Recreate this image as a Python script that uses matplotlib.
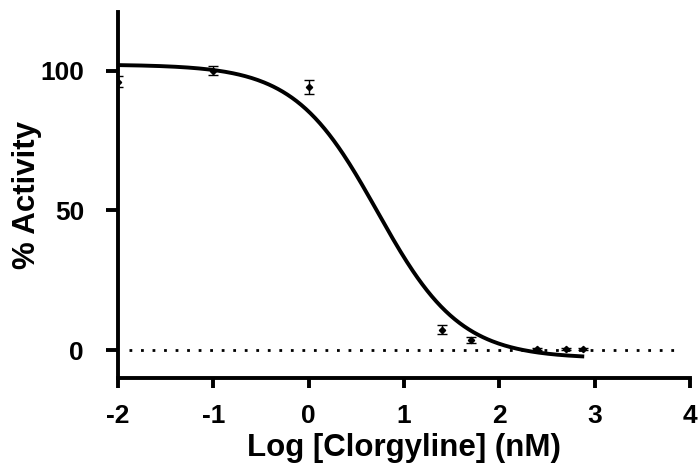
import numpy as np
import matplotlib.pyplot as plt

plt.rcParams['font.family'] = ['Liberation Sans', 'DejaVu Sans']
plt.rcParams['font.weight'] = 'bold'
plt.rcParams['lines.scale_dashes'] = False

# measured activity (mean +/- error)
log_conc = [-2, -1, 0, 1.4, 1.7, 2.4, 2.7, 2.88]
activity = [96, 100, 94.3, 7.2, 3.5, 0.4, 0.4, 0.3]
err = [2.0, 1.6, 2.5, 1.6, 1.0, 0.3, 0.3, 0.3]

# four-parameter logistic fit
top = 102.2
bottom = -3.0
log_ic50 = 0.72
hill = 1.0
fit_range = (-2, 2.87)

x_ticks = [-2, -1, 0, 1, 2, 3, 4]
y_ticks = [0, 50, 100]

fig = plt.figure(figsize=(7, 4.75), dpi=100)
ax = fig.add_axes([0.1686, 0.2042, 0.8171, 0.7705])

xs = np.linspace(fit_range[0], fit_range[1], 300)
ys = bottom + (top - bottom) / (1 + 10 ** ((xs - log_ic50) * hill))
ax.plot(xs, ys, color="black", lw=2.8, zorder=3)

ax.errorbar(log_conc, activity, yerr=err, fmt="D", ms=3.2, color="black",
            ecolor="black", elinewidth=1.0, capsize=3.5, capthick=1.0, zorder=4)

ax.plot([-1.88, 3.9], [0, 0], color="black", lw=2.0,
        linestyle=(0, (2, 6.3)), zorder=2)

ax.set_xlim(-2, 4)
ax.set_ylim(-10, 121)
ax.set_xticks(x_ticks)
ax.set_yticks(y_ticks)
ax.set_xticklabels([str(t) for t in x_ticks])
for side in ["top", "right"]:
    ax.spines[side].set_visible(False)
for side in ["left", "bottom"]:
    ax.spines[side].set_linewidth(2.8)
ax.tick_params(axis="both", width=2.8, labelsize=19)
ax.tick_params(axis="x", length=7, pad=11.5)
ax.tick_params(axis="y", length=8.5, pad=16)

ax.set_xlabel("Log [Clorgyline] (nM)", fontsize=22.5, fontweight="bold", labelpad=4)
ax.set_ylabel("% Activity", fontsize=22.5, fontweight="bold", labelpad=-1.5)

fig.savefig("out.png", dpi=100)
